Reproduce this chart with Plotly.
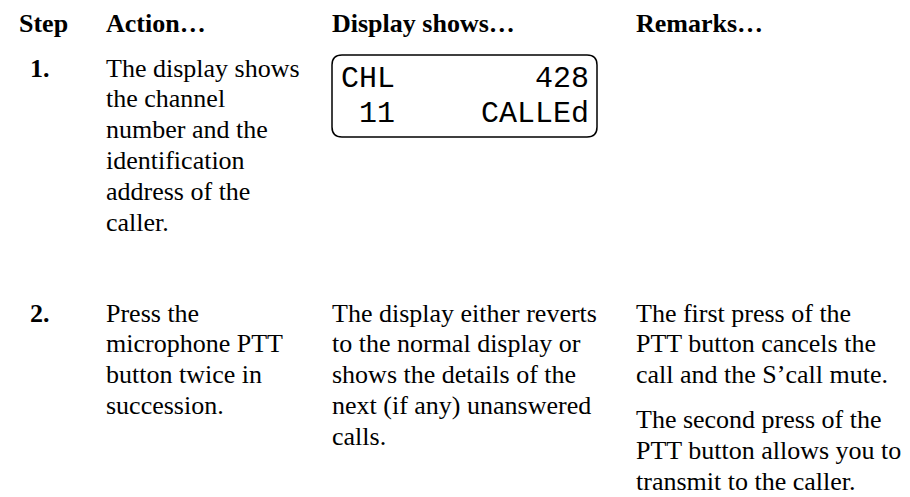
import plotly.graph_objects as go

# ---- content (text of the procedure table) ----
headers = ["Step", "Action…", "Display shows…", "Remarks…"]
steps = ["1.", "2."]
action_lines = [
    ["The display shows", "the channel", "number and the", "identification", "address of the", "caller."],
    ["Press the", "microphone PTT", "button twice in", "succession."],
]
display_lines_row2 = ["The display either reverts", "to the normal display or",
                      "shows the details of the", "next (if any) unanswered", "calls."]
remarks_paragraphs_row2 = [
    ["The first press of the", "PTT button cancels the", "call and the S’call mute."],
    ["The second press of the", "PTT button allows you to", "transmit to the caller."],
]
lcd_left = ["CHL", "11"]
lcd_right = ["428", "CALLEd"]

# ---- layout constants (pixels) ----
W, H = 910, 497
FONT = "Liberation Serif, Times New Roman, serif"
FS = 26
LH = 30.8
PARA_STEP = 45
COL_STEP_HDR = 17
COL_STEP_NUM = 52
COL_ACTION = 104
COL_DISPLAY = 330
COL_REMARKS = 634
HDR_BASE = 32
ROW_BASE = [77, 322]
BASE_OFF = 9  # baseline minus visual middle

fig = go.Figure()
ann = []

def add_text(x, base, text, bold=False, anchor="left", size=FS, family=FONT):
    ann.append(dict(x=x, y=base - BASE_OFF * size / FS, xref="x", yref="y",
                    text=("<b>%s</b>" % text) if bold else text,
                    showarrow=False, xanchor=anchor, yanchor="middle",
                    font=dict(family=family, size=size, color="#000000")))

hdr_x = [COL_STEP_HDR, COL_ACTION, COL_DISPLAY, COL_REMARKS]
for hx, h in zip(hdr_x, headers):
    add_text(hx, HDR_BASE, h, bold=True)

for i, s in enumerate(steps):
    add_text(COL_STEP_NUM, ROW_BASE[i], s, bold=True, anchor="right")
    for k, line in enumerate(action_lines[i]):
        add_text(COL_ACTION, ROW_BASE[i] + k * LH, line)

for k, line in enumerate(display_lines_row2):
    add_text(COL_DISPLAY, ROW_BASE[1] + k * LH, line)

b = ROW_BASE[1]
for p, para in enumerate(remarks_paragraphs_row2):
    for k, line in enumerate(para):
        add_text(COL_REMARKS, b + k * LH, line)
    b += (len(para) - 1) * LH + PARA_STEP

# LCD box
x0, x1, y0, y1, r = 332, 597, 55, 137, 10
path = (f"M {x0+r},{y0} L {x1-r},{y0} Q {x1},{y0} {x1},{y0+r} L {x1},{y1-r} "
        f"Q {x1},{y1} {x1-r},{y1} L {x0+r},{y1} Q {x0},{y1} {x0},{y1-r} "
        f"L {x0},{y0+r} Q {x0},{y0} {x0+r},{y0} Z")
shapes = [dict(type="path", path=path, xref="x", yref="y",
               line=dict(color="#000000", width=1.5), fillcolor="rgba(0,0,0,0)")]

LCD_FONT = "Liberation Mono, Courier New, monospace"
LCD_FS = 30
lcd_base = [89, 124]
lcd_left_x = [339, 357]
for i in range(2):
    ann.append(dict(x=lcd_left_x[i], y=lcd_base[i] - 10, xref="x", yref="y", text=lcd_left[i],
                    showarrow=False, xanchor="left", yanchor="middle",
                    font=dict(family=LCD_FONT, size=LCD_FS, color="#000000")))
    ann.append(dict(x=591, y=lcd_base[i] - 10, xref="x", yref="y", text=lcd_right[i],
                    showarrow=False, xanchor="right", yanchor="middle",
                    font=dict(family=LCD_FONT, size=LCD_FS, color="#000000")))

fig.update_layout(
    width=W, height=H, margin=dict(l=0, r=0, t=0, b=0),
    paper_bgcolor="white", plot_bgcolor="white",
    xaxis=dict(range=[0, W], visible=False, fixedrange=True),
    yaxis=dict(range=[H, 0], visible=False, fixedrange=True),
    annotations=ann, shapes=shapes, showlegend=False,
)
fig.write_html("out.html", config={"displayModeBar": False},
               post_script="document.body.style.margin='0';")
